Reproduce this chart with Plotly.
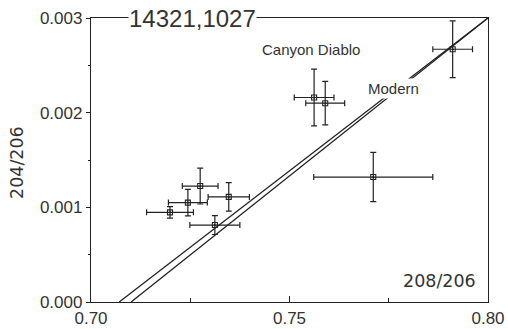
import plotly.graph_objects as go

# Data points (208/206 vs 204/206) with symmetric errors
pt_x = [0.7911, 0.7562, 0.7590, 0.7711, 0.7199, 0.7244, 0.7275, 0.7347, 0.7312]
pt_y = [0.00267, 0.00216, 0.00210, 0.00132, 0.000947, 0.00105, 0.001225, 0.00111, 0.000813]
pt_xerr = [0.0050, 0.0050, 0.0049, 0.0150, 0.0059, 0.0049, 0.0045, 0.0052, 0.0063]
pt_yerr = [0.00030, 0.00030, 0.00023, 0.00026, 0.00006, 0.00014, 0.00019, 0.00015, 0.00010]

# Reference lines
canyon_x = [0.7071, 0.80]
canyon_y = [0.0, 0.003]
modern_x = [0.7101, 0.80]
modern_y = [0.0, 0.003]

x_ticks = [0.70, 0.75, 0.80]
x_ticktext = ["0.70", "0.75", "0.80"]
y_ticks = [0.000, 0.001, 0.002, 0.003]
y_ticktext = ["0.000", "0.001", "0.002", "0.003"]

INK = "#222222"

fig = go.Figure()
fig.add_trace(go.Scatter(x=canyon_x, y=canyon_y, mode="lines",
                         line=dict(color=INK, width=1.3), hoverinfo="skip"))
fig.add_trace(go.Scatter(x=modern_x, y=modern_y, mode="lines",
                         line=dict(color=INK, width=1.3), hoverinfo="skip"))
fig.add_trace(go.Scatter(
    x=pt_x, y=pt_y, mode="markers",
    marker=dict(symbol="square-open-dot", size=5, color=INK, line=dict(width=1.1, color=INK)),
    error_x=dict(type="data", array=pt_xerr, visible=True, color=INK, thickness=1.2, width=3),
    error_y=dict(type="data", array=pt_yerr, visible=True, color=INK, thickness=1.2, width=3),
))

fig.update_layout(
    width=508, height=329,
    margin=dict(l=91, r=20, t=18, b=27),
    paper_bgcolor="white", plot_bgcolor="white",
    showlegend=False,
    font=dict(family="Liberation Sans, Arial, sans-serif", color=INK),
    xaxis=dict(range=[0.70, 0.80], tickvals=x_ticks, ticktext=x_ticktext,
               ticks="inside", ticklen=6, tickwidth=1.2, tickcolor=INK,
               minor=dict(dtick=0.025, ticks="inside", ticklen=4, tickcolor=INK, tickwidth=1),
               showline=True, linecolor=INK, linewidth=1.3, mirror=True,
               showgrid=False, zeroline=False, automargin=False,
               tickfont=dict(size=17, color="#333333")),
    yaxis=dict(range=[0, 0.003], tickvals=y_ticks, ticktext=y_ticktext,
               ticks="outside", ticklen=4, tickwidth=1.2, tickcolor=INK,
               minor=dict(dtick=0.0005, ticks="outside", ticklen=2, tickcolor=INK, tickwidth=1),
               showline=True, linecolor=INK, linewidth=1.3, mirror=True,
               showgrid=False, zeroline=False, automargin=False,
               tickfont=dict(size=17, color="#333333")),
)

fig.add_annotation(x=0.7256, y=0.003, xref="x", yref="y", text="14321,1027",
                   showarrow=False, bgcolor="white", borderpad=0,
                   font=dict(size=24, color="#333333", family="Liberation Sans, Arial"))
fig.add_annotation(x=0.7555, y=0.002672, xref="x", yref="y", text="Canyon Diablo",
                   showarrow=False, font=dict(size=15, color="#333333"))
fig.add_annotation(x=0.7763, y=0.00226, xref="x", yref="y", text="Modern",
                   showarrow=False, bgcolor="white", borderpad=1,
                   font=dict(size=15, color="#333333"))
fig.add_annotation(x=0.7879, y=0.000222, xref="x", yref="y", text="208/206",
                   showarrow=False,
                   font=dict(size=17.5, color="#333333", family="DejaVu Sans"))
fig.add_annotation(x=-0.1864, y=0.493, xref="paper", yref="paper", text="204/206",
                   showarrow=False, textangle=-90, xanchor="center", yanchor="middle",
                   font=dict(size=17.5, color="#333333", family="DejaVu Sans"))

fig.write_html("out.html")
